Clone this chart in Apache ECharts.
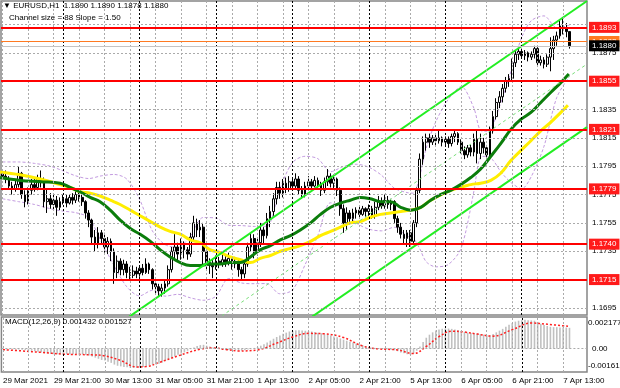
<!DOCTYPE html>
<html><head><meta charset="utf-8">
<script src="https://cdn.jsdelivr.net/npm/echarts@6/dist/echarts.min.js"></script>
<style>html,body{margin:0;padding:0;background:#fff;overflow:hidden}#c{width:620px;height:388px}</style>
</head><body><div id="c"></div>
<script>
// ---------- DATA ----------
const firstOpen = 1.1790;
const closes = [
1.1788,1.1786,1.1781,1.1779,1.1782,1.1790,1.1775,1.1770,1.1778,1.1782,
1.1780,1.1786,1.1784,1.1770,1.1772,1.1768,1.1771,1.1766,1.1770,1.1772,
1.1769,1.1773,1.1771,1.1775,1.1773,1.1770,1.1762,1.1757,1.1745,1.1740,
1.1748,1.1744,1.1738,1.1742,1.1735,1.1720,1.1728,1.1722,1.1726,1.1720,
1.1718,1.1721,1.1719,1.1723,1.1720,1.1726,1.1722,1.1712,1.1710,1.1707,
1.1709,1.1712,1.1722,1.1735,1.1738,1.1733,1.1740,1.1736,1.1733,1.1745,
1.1755,1.1750,1.1752,1.1735,1.1727,1.1725,1.1724,1.1728,1.1726,1.1729,
1.1727,1.1730,1.1726,1.1728,1.1722,1.1719,1.1726,1.1738,1.1744,1.1735,
1.1741,1.1750,1.1746,1.1758,1.1763,1.1772,1.1780,1.1776,1.1783,1.1779,
1.1784,1.1781,1.1786,1.1778,1.1775,1.1781,1.1784,1.1781,1.1785,1.1782,
1.1778,1.1784,1.1788,1.1783,1.1786,1.1778,1.1765,1.1755,1.1762,1.1758,
1.1762,1.1764,1.1761,1.1765,1.1763,1.1765,1.1760,1.1766,1.1770,1.1767,
1.1771,1.1768,1.1770,1.1758,1.1752,1.1747,1.1744,1.1748,1.1742,1.1755,
1.1778,1.1800,1.1812,1.1815,1.1812,1.1815,1.1813,1.1815,1.1812,1.1814,
1.1811,1.1816,1.1818,1.1812,1.1806,1.1803,1.1808,1.1805,1.1814,1.1804,
1.1812,1.1808,1.1803,1.1820,1.1830,1.1840,1.1844,1.1850,1.1855,1.1857,
1.1868,1.1874,1.1876,1.1873,1.1875,1.1872,1.1874,1.1878,1.1868,1.1870,
1.1867,1.1872,1.1878,1.1884,1.1887,1.1894,1.1892,1.1890,1.1880];
const highs = [
1.1793,1.1792,1.1788,1.1784,1.1786,1.1795,1.1791,1.1778,1.1780,1.1786,
1.1787,1.1789,1.1792,1.1787,1.1779,1.1776,1.1775,1.1774,1.1773,1.1775,
1.1775,1.1775,1.1776,1.1778,1.1779,1.1775,1.1771,1.1764,1.1758,1.1750,
1.1752,1.1750,1.1748,1.1745,1.1744,1.1737,1.1732,1.1730,1.1729,1.1728,
1.1724,1.1725,1.1724,1.1725,1.1726,1.1730,1.1727,1.1723,1.1715,1.1712,
1.1712,1.1715,1.1725,1.1738,1.1747,1.1741,1.1744,1.1742,1.1738,1.1748,
1.1760,1.1758,1.1757,1.1755,1.1737,1.1730,1.1729,1.1732,1.1731,1.1733,
1.1732,1.1734,1.1731,1.1731,1.1729,1.1724,1.1728,1.1741,1.1748,1.1747,
1.1745,1.1755,1.1752,1.1762,1.1767,1.1776,1.1784,1.1784,1.1786,1.1787,
1.1788,1.1787,1.1790,1.1788,1.1781,1.1784,1.1788,1.1786,1.1788,1.1787,
1.1784,1.1787,1.1793,1.1790,1.1789,1.1787,1.1780,1.1768,1.1766,1.1764,
1.1765,1.1766,1.1767,1.1767,1.1766,1.1768,1.1767,1.1770,1.1774,1.1773,
1.1775,1.1774,1.1772,1.1771,1.1760,1.1755,1.1750,1.1750,1.1750,1.1757,
1.1780,1.1804,1.1816,1.1818,1.1818,1.1817,1.1817,1.1820,1.1816,1.1816,
1.1816,1.1818,1.1821,1.1819,1.1814,1.1809,1.1810,1.1810,1.1818,1.1821,
1.1818,1.1815,1.1810,1.1823,1.1834,1.1843,1.1848,1.1853,1.1858,1.1860,
1.1871,1.1877,1.1878,1.1878,1.1877,1.1876,1.1876,1.1880,1.1879,1.1873,
1.1872,1.1874,1.1886,1.1887,1.1890,1.1898,1.1899,1.1896,1.1890];
const lows = [
1.1786,1.1783,1.1779,1.1775,1.1777,1.1780,1.1772,1.1766,1.1768,1.1775,
1.1777,1.1778,1.1780,1.1766,1.1762,1.1765,1.1764,1.1760,1.1764,1.1768,
1.1766,1.1768,1.1768,1.1769,1.1770,1.1767,1.1758,1.1752,1.1740,1.1735,
1.1737,1.1740,1.1734,1.1733,1.1728,1.1712,1.1716,1.1718,1.1718,1.1716,
1.1715,1.1716,1.1716,1.1717,1.1718,1.1719,1.1719,1.1708,1.1705,1.1703,
1.1703,1.1705,1.1710,1.1720,1.1730,1.1728,1.1729,1.1730,1.1729,1.1731,
1.1742,1.1745,1.1745,1.1726,1.1722,1.1719,1.1716,1.1722,1.1723,1.1724,
1.1724,1.1725,1.1722,1.1723,1.1717,1.1714,1.1716,1.1724,1.1735,1.1730,
1.1732,1.1738,1.1740,1.1744,1.1752,1.1760,1.1768,1.1772,1.1773,1.1776,
1.1777,1.1778,1.1779,1.1775,1.1772,1.1773,1.1779,1.1778,1.1780,1.1779,
1.1774,1.1776,1.1781,1.1780,1.1779,1.1774,1.1760,1.1748,1.1750,1.1754,
1.1755,1.1758,1.1758,1.1760,1.1759,1.1760,1.1758,1.1758,1.1764,1.1765,
1.1765,1.1765,1.1764,1.1755,1.1748,1.1744,1.1740,1.1738,1.1738,1.1740,
1.1752,1.1776,1.1796,1.1806,1.1808,1.1810,1.1810,1.1811,1.1809,1.1810,
1.1808,1.1809,1.1812,1.1810,1.1804,1.1800,1.1801,1.1802,1.1802,1.1797,
1.1800,1.1804,1.1800,1.1802,1.1818,1.1828,1.1836,1.1840,1.1847,1.1851,
1.1855,1.1865,1.1870,1.1871,1.1870,1.1869,1.1870,1.1871,1.1865,1.1866,
1.1864,1.1865,1.1862,1.1870,1.1880,1.1885,1.1888,1.1886,1.1878];

// moving averages: [bar index, price]
const maGreen = [[-0.8,1.1787],[5.5,1.1785],[11.8,1.1784],[18.1,1.1783],[21.2,1.1780],[24.3,1.1777],[27.5,1.1773],[30.6,1.1770],[33.8,1.1764],[36.9,1.1757],[40.1,1.1751],[43.2,1.1747],[46.4,1.1742],[49.5,1.1736],[52.6,1.1731],[55.8,1.1727],[58.9,1.1725],[62.1,1.1725],[65.2,1.1726],[68.4,1.1726],[71.5,1.1727],[74.7,1.1727],[77.8,1.1731],[80.9,1.1736],[84.1,1.1739],[87.2,1.1743],[90.4,1.1746],[93.5,1.1750],[96.7,1.1755],[99.8,1.1761],[103.0,1.1766],[106.1,1.1769],[109.2,1.1771],[112.4,1.1773],[115.5,1.1772],[118.7,1.1770],[121.8,1.1770],[125.0,1.1766],[128.1,1.1764],[131.3,1.1766],[134.4,1.1771],[137.5,1.1775],[140.7,1.1778],[143.8,1.1782],[147.0,1.1787],[150.1,1.1793],[153.3,1.1802],[156.4,1.1811],[159.6,1.1821],[162.7,1.1828],[165.9,1.1833],[169.0,1.1840],[172.1,1.1847],[175.3,1.1854],[177.8,1.1860]];
const maYellow = [[-0.8,1.1791],[5.5,1.1789],[11.8,1.1786],[18.1,1.1782],[21.2,1.1780],[24.3,1.1777],[27.5,1.1776],[30.6,1.1774],[33.8,1.1771],[36.9,1.1768],[40.1,1.1764],[43.2,1.1760],[46.4,1.1756],[49.5,1.1752],[52.6,1.1749],[55.8,1.1747],[58.9,1.1743],[62.1,1.1741],[65.2,1.1736],[68.4,1.1734],[71.5,1.1731],[74.7,1.1729],[77.8,1.1727],[80.9,1.1730],[84.1,1.1732],[87.2,1.1735],[90.4,1.1737],[93.5,1.1739],[96.7,1.1742],[99.8,1.1746],[103.0,1.1749],[106.1,1.1752],[109.2,1.1755],[112.4,1.1756],[115.5,1.1759],[118.7,1.1761],[121.8,1.1762],[125.0,1.1763],[128.1,1.1764],[131.3,1.1766],[134.4,1.1771],[140.7,1.1778],[147.0,1.1782],[150.1,1.1783],[153.3,1.1785],[156.4,1.1790],[159.6,1.1799],[162.7,1.1806],[165.9,1.1813],[169.0,1.1820],[172.1,1.1826],[175.3,1.1833],[177.5,1.1838]];

// envelope bands (lavender dashed): [bar index, price]
const bandUpper = [[0,1.1798],[5,1.1798],[10,1.1797],[15,1.1795],[19,1.17917],[23,1.17882],[27,1.17863],[31,1.17882],[35,1.17892],[39,1.17859],[43,1.17717],[47,1.17495],[51,1.17397],[55,1.17377],[59,1.17460],[63,1.17588],[67,1.17584],[71,1.17533],[75,1.17531],[79,1.17525],[83,1.17527],[87,1.17786],[91,1.17975],[95,1.18020],[99,1.18003],[103,1.17911],[107,1.17948],[111,1.17964],[115,1.17943],[119,1.17886],[123,1.17795],[127,1.17764],[129,1.17760],[131,1.17883],[133,1.18076],[136,1.18263],[140,1.18424],[144,1.18512],[148,1.18359],[150,1.18204],[152,1.18196],[154,1.18247],[156,1.18370],[158,1.18503],[160,1.18645],[163,1.18859],[166,1.18977],[170,1.19011],[174,1.18927],[178,1.18945]];
const bandLower = [[0,1.1772],[5,1.1770],[10,1.1768],[15,1.1765],[19,1.17633],[23,1.17622],[27,1.17587],[31,1.17418],[35,1.17249],[39,1.17099],[43,1.17035],[47,1.17074],[51,1.17033],[55,1.17046],[59,1.17021],[63,1.17004],[67,1.17032],[71,1.17157],[75,1.17126],[79,1.17121],[83,1.17122],[87,1.17050],[91,1.17076],[95,1.17256],[99,1.17462],[103,1.17692],[107,1.17648],[111,1.17551],[115,1.17506],[119,1.17494],[123,1.17519],[127,1.17457],[129,1.17440],[131,1.17367],[133,1.17276],[136,1.17240],[140,1.17257],[144,1.17373],[148,1.17775],[150,1.18013],[152,1.18020],[154,1.17992],[156,1.17925],[158,1.17870],[160,1.17828],[163,1.17791],[166,1.17877],[170,1.18091],[174,1.18435],[178,1.18584]];

// regression channel (Channel size = 88, Slope = 1.50): endpoints [bar index, price]
const channelUpper  = [[30,1.16737],[183.5,1.19116]];
const channelMiddle = [[30,1.16292],[183.5,1.18671]];
const channelLower  = [[30,1.15847],[183.5,1.18226]];

const levels = [1.1893,1.1855,1.1821,1.1779,1.1740,1.1715];
const bidPrice = 1.1880, askPrice = 1.1883;
const priceTicks = [1.1695,1.1715,1.1735,1.1755,1.1775,1.1795,1.1815,1.1835,1.1855,1.1875,1.1895];
const priceMin = 1.1690, priceMax = 1.19116;

// MACD(12,26,9) in units of 0.0001
const macdHist = [
-0.3,-0.4,-0.5,-0.6,-0.7,-0.6,-0.8,-1.0,
-1.2,-1.5,-1.8,-2.2,-2.6,-3.0,-3.3,-3.6,
-3.8,-3.9,-4.0,-4.0,-3.9,-3.8,-3.8,-3.7,
-3.7,-3.9,-4.3,-4.8,-5.5,-6.2,-7.0,-7.8,
-8.2,-9.0,-9.8,-11.0,-11.8,-12.2,-12.6,-12.9,
-13.2,-13.3,-13.2,-13.0,-12.6,-12.2,-11.4,-11.0,
-10.8,-10.4,-9.6,-8.6,-7.6,-6.4,-5.2,-4.3,
-3.4,-2.6,-1.5,-0.4,0.8,1.8,2.4,2.6,
2.0,1.4,0.8,0.3,-0.2,-0.6,-0.9,-1.0,
-1.1,-1.2,-1.3,-1.4,-1.2,-0.6,0.0,0.5,
1.2,2.0,3.0,4.2,5.5,6.8,8.0,9.0,
10.2,11.0,11.8,12.3,12.6,12.7,12.5,12.3,
12.0,11.8,11.5,11.0,10.6,10.0,9.6,9.1,
8.4,7.8,7.0,6.2,5.4,4.8,4.2,3.6,
3.0,2.4,1.8,1.2,0.7,0.3,0.0,-0.3,
-0.5,-0.6,-0.8,-1.2,-1.8,-2.6,-3.2,-3.8,
-4.2,-3.5,-1.5,1.5,4.5,7.5,9.6,11.2,
12.4,13.2,13.6,13.8,13.8,13.6,13.2,12.8,
12.2,11.6,11.0,10.8,10.8,10.4,10.0,9.6,
9.2,9.2,10.0,11.2,12.4,13.6,15.0,16.4,
17.6,18.6,19.2,19.6,19.8,19.6,19.4,19.2,
18.4,17.2,16.2,15.6,15.0,14.8,14.8,14.6,
14.6,14.5,14.32];
const macdSignal = [[0,-0.7],[6,-1.6],[12,-2.6],[19,-3.8],[28,-4.3],[32,-5.0],[37,-8.2],[42,-12.6],[45,-12.4],[49,-9.6],[55,-5.0],[62,-0.4],[66,0.4],[70,-0.6],[74,-1.6],[80,-0.9],[86,3.8],[91,8.0],[96,10.5],[101,10.2],[107,7.6],[113,1.8],[118,-0.2],[124,-0.9],[129,-3.4],[133,1.5],[137,8.2],[141,12.0],[145,11.4],[149,10.0],[154,8.6],[160,13.0],[166,17.6],[171,16.8],[178,15.27]];
const macdMax = 21.77, macdMin = -16.1;
const macdTickText = ['0.002177','0.00','-0.00161'];

const xTickIdx = [0,16,32,48,64,80,96,112,128,144,160,176];
const xTickLabels = ['29 Mar 2021','29 Mar 21:00','30 Mar 13:00','31 Mar 05:00','31 Mar 21:00','1 Apr 13:00','2 Apr 05:00','2 Apr 21:00','5 Apr 13:00','6 Apr 05:00','6 Apr 21:00','7 Apr 13:00'];
const vGridIdx = [0,8,16,24,32,40,48,56,64,72,80,88,96,104,112,120,128,136,144,152,160,168,176];
const daySepIdx = [19,43,67,91,115,139,163];

// ---------- CHART ----------
const FONT = '"Liberation Sans", Arial, sans-serif';
const N = 184;
const X0 = -0.5, X1 = N - 0.5;
const cats = [];
for (let i = 0; i < N; i++) cats.push(String(i));
const candles = closes.map((c, i) => {
  const o = i === 0 ? firstOpen : closes[i - 1];
  return [o, c, Math.min(lows[i], o, c), Math.max(highs[i], o, c)];
});

const gridStyle = {color:'#aaaaaa', type:[2,2], width:1};
const hiddenStyle = {color:'rgba(0,0,0,0)', width:1};
const sepStyle = {color:'#000', type:[2,2], width:1};
const txtLabel = (txt, dist, off) => ({show:true, position:'end', distance:dist, offset:off || [0,0], formatter:txt,
  color:'#000', fontSize:8, fontFamily:FONT});
const boxLabel = (txt, bg) => ({show:true, position:'end', distance:2, formatter:txt,
  color:'#fff', backgroundColor:bg, fontSize:8, fontFamily:FONT, padding:[2,3,1,3]});
const hLine = (v, lineStyle, label) => [{coord:[X0, v], lineStyle, label}, {coord:[X1, v]}];
const vLine = (i, lo, hi, lineStyle) => [{coord:[i, lo], lineStyle, label:{show:false}}, {coord:[i, hi]}];

const mainGridLines = [
  ...priceTicks.map(v => hLine(v, gridStyle, txtLabel(v.toFixed(4), 5))),
  ...vGridIdx.map(i => vLine(i, priceMin, priceMax, gridStyle)),
  ...daySepIdx.map(i => vLine(i, priceMin, priceMax, sepStyle))
];
const macdGridLines = [
  hLine(0, gridStyle, txtLabel(macdTickText[1], 5)),
  hLine(macdMax, hiddenStyle, txtLabel(macdTickText[0], 1, [0,6])),
  hLine(macdMin, hiddenStyle, txtLabel(macdTickText[2], 1, [0,-6])),
  ...vGridIdx.map(i => vLine(i, macdMin, macdMax, gridStyle)),
  ...daySepIdx.map(i => vLine(i, macdMin, macdMax, sepStyle))
];
const levelLines = [
  ...levels.map(v => hLine(v, {color:'#ff0000', width:2, type:'solid'}, boxLabel(v.toFixed(4), '#ff1a1a'))),
  hLine(askPrice, {color:'#ff7a22', width:1, type:'solid'}, boxLabel(askPrice.toFixed(4), '#ff7a22')),
  hLine(bidPrice, {color:'#c4c4c4', width:1, type:'solid'}, boxLabel(bidPrice.toFixed(4), '#000'))
];
const bandStyle = {color:'#c39be0', width:1, type:[3,2]};

const option = {
  animation:false,
  backgroundColor:'#fff',
  grid:[
    {left:1, top:1, width:586, height:314, show:true, borderColor:'#858585', borderWidth:1.5, backgroundColor:'#fff'},
    {left:1, top:317, width:586, height:55, show:true, borderColor:'#858585', borderWidth:1.5, backgroundColor:'#fff'}
  ],
  xAxis:[
    {type:'category', gridIndex:0, data:cats, axisLine:{show:false}, axisTick:{show:false}, axisLabel:{show:false}, splitLine:{show:false}},
    {type:'value', gridIndex:0, min:X0, max:X1, show:false},
    {type:'category', gridIndex:1, data:cats, axisLine:{show:false}, axisTick:{show:false}, splitLine:{show:false},
      axisLabel:{show:true, hideOverlap:false, interval:(i) => xTickIdx.indexOf(i) >= 0,
        formatter:(v) => { const k = xTickIdx.indexOf(Number(v)); return k >= 0 ? xTickLabels[k] : ''; },
        align:'left', color:'#000', fontSize:8, fontFamily:FONT, margin:5}},
    {type:'value', gridIndex:1, min:X0, max:X1, show:false}
  ],
  yAxis:[
    {type:'value', gridIndex:0, min:priceMin, max:priceMax, show:false, splitLine:{show:false}},
    {type:'value', gridIndex:1, min:macdMin, max:macdMax, show:false, splitLine:{show:false}}
  ],
  graphic:[
    {type:'text', left:3, top:2, z:100, style:{text:'\u25BC EURUSD,H1  1.1890 1.1890 1.1878 1.1880', font:'8px ' + FONT, fill:'#000'}},
    {type:'text', left:9, top:14, z:100, style:{text:'Channel size = 88 Slope = 1.50', font:'8px ' + FONT, fill:'#000'}},
    {type:'text', left:5, top:318, z:100, style:{text:'MACD(12,26,9) 0.001432 0.001527', font:'8px ' + FONT, fill:'#000'}}
  ],
  series:[
    {type:'line', xAxisIndex:1, yAxisIndex:0, data:[[X0, priceMin]], symbol:'none', lineStyle:{opacity:0}, z:1, silent:true,
      markLine:{silent:true, symbol:['none','none'], animation:false, data:mainGridLines}},
    {type:'line', xAxisIndex:1, yAxisIndex:0, data:bandUpper, symbol:'none', smooth:0.3, z:2, lineStyle:bandStyle},
    {type:'line', xAxisIndex:1, yAxisIndex:0, data:bandLower, symbol:'none', smooth:0.3, z:2, lineStyle:bandStyle},
    {type:'candlestick', xAxisIndex:0, yAxisIndex:0, data:candles, barWidth:2.2, z:2,
      itemStyle:{color:'#ffffff', color0:'#000000', borderColor:'#000000', borderColor0:'#000000', borderWidth:1}},
    {type:'line', xAxisIndex:1, yAxisIndex:0, data:maYellow, symbol:'none', smooth:0.4, z:3,
      lineStyle:{color:'#ffee00', width:3}},
    {type:'line', xAxisIndex:1, yAxisIndex:0, data:maGreen, symbol:'none', smooth:0.4, z:3,
      lineStyle:{color:'#0b7d0b', width:3}},
    {type:'line', xAxisIndex:1, yAxisIndex:0, data:channelUpper, symbol:'none', z:4, lineStyle:{color:'#22ee22', width:2}},
    {type:'line', xAxisIndex:1, yAxisIndex:0, data:channelMiddle, symbol:'none', z:4, lineStyle:{color:'#77dd77', width:1, type:[3,3]}},
    {type:'line', xAxisIndex:1, yAxisIndex:0, data:channelLower, symbol:'none', z:4, lineStyle:{color:'#22ee22', width:2}},
    {type:'line', xAxisIndex:1, yAxisIndex:0, data:[[X0, priceMin]], symbol:'none', lineStyle:{opacity:0}, z:6, silent:true,
      markLine:{silent:true, symbol:['none','none'], animation:false, data:levelLines}},
    {type:'line', xAxisIndex:3, yAxisIndex:1, data:[[X0, 0]], symbol:'none', lineStyle:{opacity:0}, z:1, silent:true,
      markLine:{silent:true, symbol:['none','none'], animation:false, data:macdGridLines}},
    {type:'bar', xAxisIndex:2, yAxisIndex:1, data:macdHist, barWidth:1.6, z:2, itemStyle:{color:'#c0c0c0'}},
    {type:'line', xAxisIndex:3, yAxisIndex:1, data:macdSignal, symbol:'none', smooth:0.4, z:3,
      lineStyle:{color:'#ff2020', width:1.5, type:[2,2]}}
  ]
};
const chart = echarts.init(document.getElementById('c'));
chart.setOption(option);
</script></body></html>
